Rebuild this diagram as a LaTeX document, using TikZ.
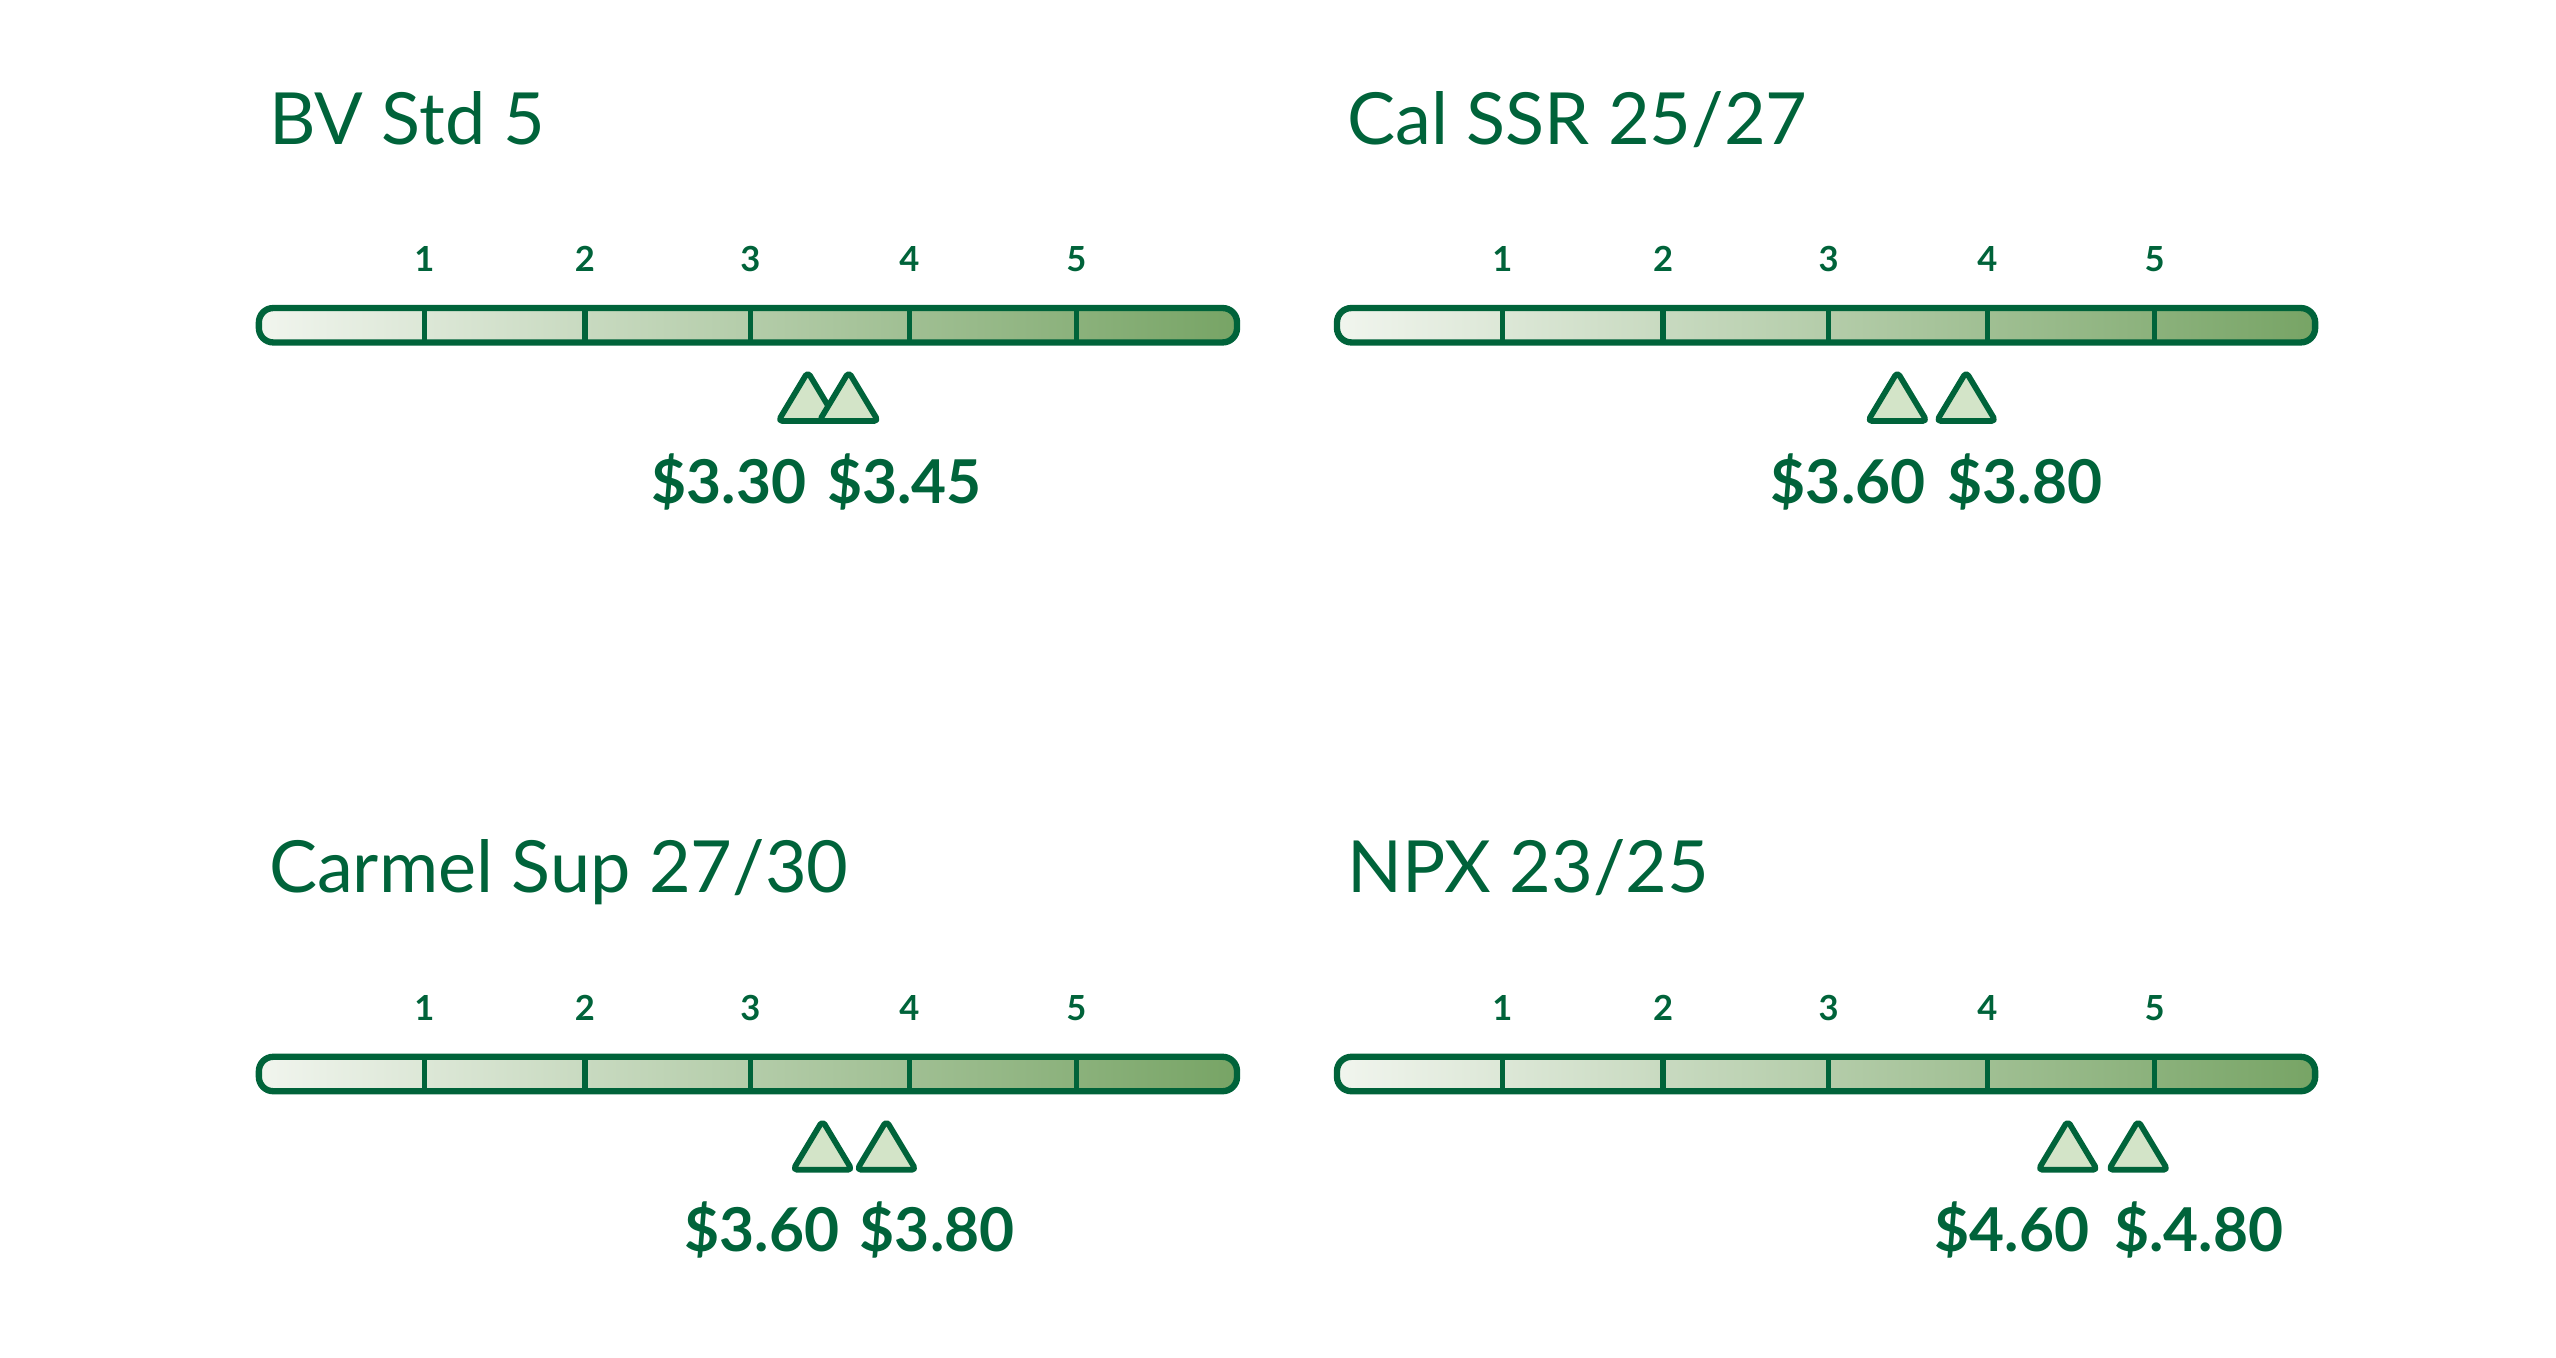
\documentclass[tikz,border=0pt]{standalone}
\usepackage{fontspec}
\setmainfont{Lato}
\definecolor{dkgreen}{HTML}{00633A}
\definecolor{barlight}{HTML}{F1F5EE}
\definecolor{bardark}{HTML}{77A465}
\definecolor{trifill}{HTML}{D3E4C8}
\tikzset{
  title/.style={anchor=base west, text=dkgreen, font=\fontsize{25}{28}\selectfont},
  tick/.style={anchor=base, text=dkgreen, font=\bfseries\fontsize{12}{14}\selectfont},
  price/.style={anchor=base, text=dkgreen, font=\bfseries\fontsize{21}{24}\selectfont},
  bar/.style={draw=dkgreen, line width=2.2pt, rounded corners=5pt, left color=barlight, right color=bardark},
  marker/.style={draw=dkgreen, line width=2pt, fill=trifill, rounded corners=1.5pt, line join=round},
}
% one panel: #1,#2 offset, #3 title, #4,#5 markers, #6,#7 prices, #8,#9 price x
\newcommand{\pricepanel}[9]{
  \begin{scope}[shift={(#1,#2)}]
    \node[title] (t#1#2) at (0,88) {#3};
    \draw[bar] (0,188) rectangle (597,209);
    \foreach \n/\x in {1/101,2/199,3/300,4/397,5/499} {
      \draw[dkgreen, line width=1.8pt] (\x,188) -- (\x,209);
      \node[tick] (n\n#1#2) at (\x,166) {\n};
    }
    \draw[marker] (#4,227) -- (#4+18,257) -- (#4-18,257) -- cycle;
    \draw[marker] (#5,227) -- (#5+18,257) -- (#5-18,257) -- cycle;
    \node[price] (a#1#2) at (#8,307) {#6};
    \node[price] (b#1#2) at (#9,307) {#7};
  \end{scope}
}
\begin{document}
\begin{tikzpicture}[x=0.02cm, y=-0.02cm]
  \useasboundingbox (0,0) rectangle (1560,828.3);
  \pricepanel{158}{0}{BV Std 5}{335}{360}{\$3.30}{\$3.45}{287}{394}
  \pricepanel{816}{0}{Cal SSR 25/27}{342}{384}{\$3.60}{\$3.80}{312}{420}
  \pricepanel{158}{457}{Carmel Sup 27/30}{344}{383}{\$3.60}{\$3.80}{307}{414}
  \pricepanel{816}{457}{NPX 23/25}{446}{489}{\$4.60}{\$.4.80}{412}{526}
\end{tikzpicture}
\end{document}
